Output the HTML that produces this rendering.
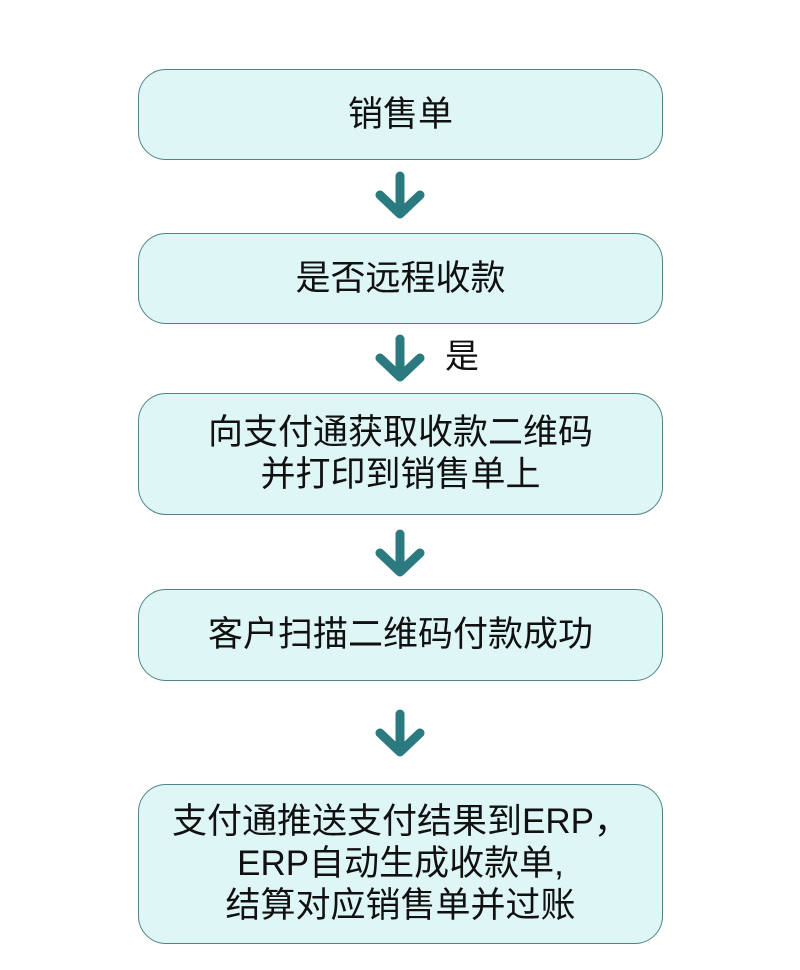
<!DOCTYPE html>
<html><head><meta charset="utf-8"><style>
body{margin:0;width:800px;height:970px;background:#fff;position:relative;font-family:"Liberation Sans","Noto Sans CJK SC",sans-serif;}
.b{position:absolute;left:138px;width:525px;border:1.5px solid #4f8585;border-radius:28px;background:#dff6f6;display:flex;align-items:center;justify-content:center;text-align:center;font-size:35px;line-height:42px;color:#111;box-sizing:border-box;}
svg{position:absolute;left:370px;}
</style></head><body>
<div class="b" style="top:69px;height:91px">销售单</div>
<div class="b" style="top:233px;height:91px">是否远程收款</div>
<div class="b" style="top:393px;height:122px">向支付通获取收款二维码<br>并打印到销售单上</div>
<div class="b" style="top:589px;height:92px">客户扫描二维码付款成功</div>
<div class="b" style="top:784px;height:160px">支付通推送支付结果到ERP，<br>ERP自动生成收款单,<br>结算对应销售单并过账</div>
<svg style="top:168px" width="60" height="56"><g stroke="#2a7a80" stroke-width="9" stroke-linecap="round" stroke-linejoin="round" fill="none"><path d="M30 8V46M10 27L30 46L50 27"/></g></svg>
<svg style="top:331px" width="60" height="56"><g stroke="#2a7a80" stroke-width="9" stroke-linecap="round" stroke-linejoin="round" fill="none"><path d="M30 8V46M10 27L30 46L50 27"/></g></svg>
<div style="position:absolute;left:445px;top:336px;font-size:34px;line-height:42px;color:#111">是</div>
<svg style="top:526px" width="60" height="56"><g stroke="#2a7a80" stroke-width="9" stroke-linecap="round" stroke-linejoin="round" fill="none"><path d="M30 8V46M10 27L30 46L50 27"/></g></svg>
<svg style="top:706px" width="60" height="56"><g stroke="#2a7a80" stroke-width="9" stroke-linecap="round" stroke-linejoin="round" fill="none"><path d="M30 8V46M10 27L30 46L50 27"/></g></svg>
</body></html>
